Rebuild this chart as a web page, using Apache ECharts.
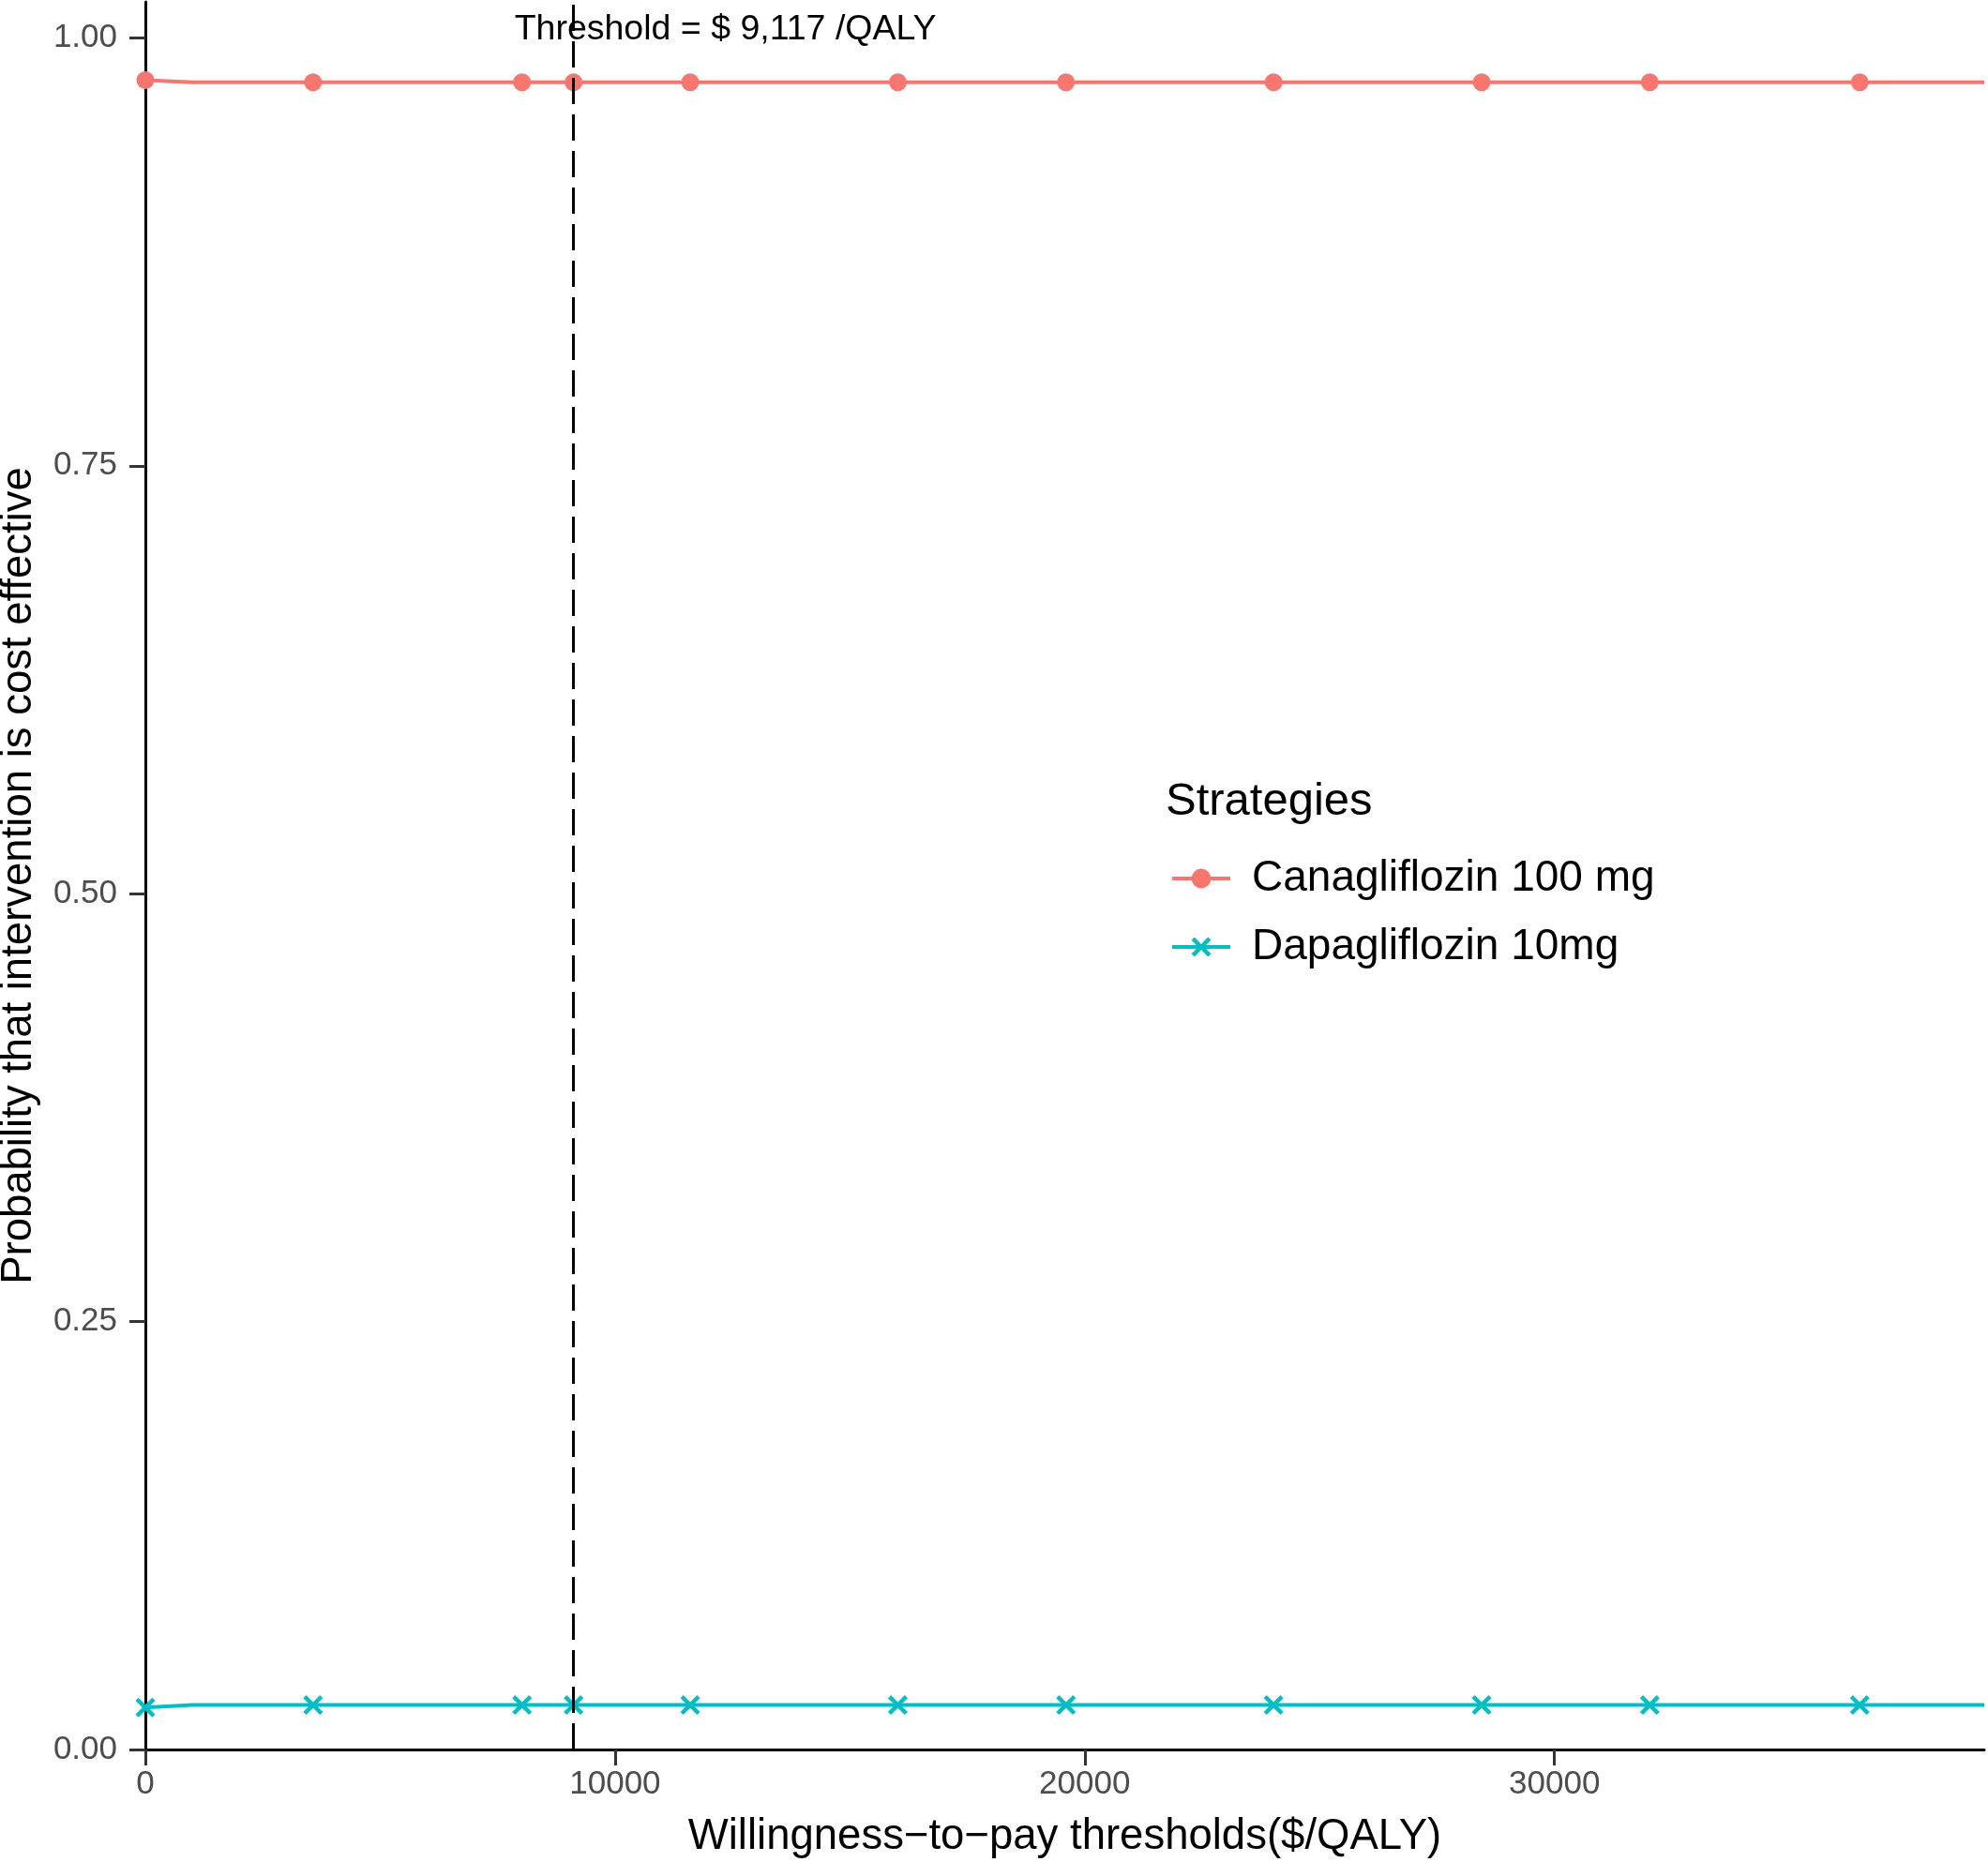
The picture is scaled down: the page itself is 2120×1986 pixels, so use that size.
<!DOCTYPE html>
<html>
<head>
<meta charset="utf-8">
<script src="https://cdn.jsdelivr.net/npm/echarts@6/dist/echarts.min.js"></script>
<style>
html,body{margin:0;padding:0;background:#fff;}
#chart{width:2120px;height:1986px;}
</style>
</head>
<body>
<div id="chart"></div>
<script>
// Data
const wtp = [0, 1000, 3570, 8020, 9117, 11600, 16020, 19600, 24020, 28450, 32030, 36500, 39150];
const canagliflozin = [0.9753, 0.974, 0.974, 0.974, 0.974, 0.974, 0.974, 0.974, 0.974, 0.974, 0.974, 0.974, 0.974];
const dapagliflozin = [0.0245, 0.026, 0.026, 0.026, 0.026, 0.026, 0.026, 0.026, 0.026, 0.026, 0.026, 0.026, 0.026];
const markerShown = [true, false, true, true, true, true, true, true, true, true, true, true, false];
const seriesNames = ['Canagliflozin 100 mg', 'Dapagliflozin 10mg'];
const xTicks = [0, 10000, 20000, 30000];
const xTickLabels = ['0', '10000', '20000', '30000'];
const yTicks = [0, 0.25, 0.5, 0.75, 1.0];
const yTickLabels = ['0.00', '0.25', '0.50', '0.75', '1.00'];
const thresholdValue = 9117;
const thresholdLabel = 'Threshold = $ 9,117 /QALY';
const thresholdLabelPos = [12350, 1.005];
const xTitle = 'Willingness\u2212to\u2212pay thresholds($/QALY)';
const yTitle = 'Probability that intervention is cost effective';
const legendTitle = 'Strategies';

const FONT = '"Liberation Sans", Arial, sans-serif';
const crossPath = 'path://M0,15 L15,0 L50,35 L85,0 L100,15 L65,50 L100,85 L85,100 L50,65 L15,100 L0,85 L35,50 Z';

function buildData(vals, sym) {
  return wtp.map((x, i) => ({ value: [x, vals[i]], symbol: markerShown[i] ? sym : 'none' }));
}
function pick(ticks, labels) {
  return v => { const i = ticks.findIndex(t => Math.abs(t - v) < 1e-9); return i >= 0 ? labels[i] : ''; };
}

const chart = echarts.init(document.getElementById('chart'), null, { renderer: 'canvas' });
chart.setOption({
  animation: false,
  backgroundColor: '#ffffff',
  textStyle: { fontFamily: FONT },
  title: {
    text: legendTitle,
    left: 1238,
    top: 826,
    textStyle: { fontFamily: FONT, fontSize: 49, fontWeight: 'normal', color: '#000' }
  },
  legend: {
    orient: 'vertical',
    left: 1243,
    top: 906,
    itemWidth: 62,
    itemHeight: 26,
    itemGap: 21,
    data: seriesNames,
    lineStyle: { width: 4 },
    textStyle: { fontFamily: FONT, fontSize: 46, color: '#000', lineHeight: 52, padding: [0, 0, 0, 18] }
  },
  grid: { left: 155, right: 4, top: 2, bottom: 120, containLabel: false, outerBoundsMode: 'none' },
  xAxis: {
    type: 'value',
    min: 0,
    max: 39150,
    name: xTitle,
    nameLocation: 'middle',
    nameGap: 70,
    nameTextStyle: { fontFamily: FONT, fontSize: 45.5, color: '#000' },
    splitLine: { show: false },
    axisLine: { show: true, onZero: false, lineStyle: { color: '#000', width: 3 } },
    axisTick: { show: true, length: 17, lineStyle: { color: '#333', width: 3 }, customValues: xTicks },
    axisLabel: { fontFamily: FONT, fontSize: 35, color: '#4d4d4d', margin: 20, customValues: xTicks, formatter: pick(xTicks, xTickLabels) }
  },
  yAxis: {
    type: 'value',
    min: 0,
    max: 1.021,
    name: yTitle,
    nameLocation: 'middle',
    nameRotate: 90,
    nameGap: 112,
    nameTextStyle: { fontFamily: FONT, fontSize: 45.5, color: '#000' },
    splitLine: { show: false },
    axisLine: { show: true, onZero: false, lineStyle: { color: '#000', width: 3 } },
    axisTick: { show: true, length: 17, lineStyle: { color: '#333', width: 3 }, customValues: yTicks },
    axisLabel: { fontFamily: FONT, fontSize: 35, color: '#4d4d4d', margin: 30, customValues: yTicks, formatter: pick(yTicks, yTickLabels) }
  },
  series: [
    {
      name: seriesNames[0],
      type: 'line',
      data: buildData(canagliflozin, 'circle'),
      symbol: 'circle',
      symbolSize: 19,
      showAllSymbol: true,
      color: '#F8766D',
      lineStyle: { color: '#F8766D', width: 4 },
      itemStyle: { color: '#F8766D' },
      z: 3,
      markLine: {
        silent: true,
        symbol: ['none', 'none'],
        label: { show: false },
        lineStyle: { color: '#000', width: 3, type: [28, 11] },
        data: [{ xAxis: thresholdValue }],
        z: 5
      },
      markPoint: {
        silent: true,
        symbol: 'circle',
        symbolSize: 1,
        itemStyle: { color: 'rgba(0,0,0,0)' },
        label: {
          show: true,
          position: 'inside',
          formatter: thresholdLabel,
          fontFamily: FONT,
          fontSize: 37.5,
          color: '#000'
        },
        data: [{ coord: thresholdLabelPos }]
      }
    },
    {
      name: seriesNames[1],
      type: 'line',
      data: buildData(dapagliflozin, crossPath),
      symbol: crossPath,
      symbolSize: 21,
      showAllSymbol: true,
      color: '#00BFC4',
      lineStyle: { color: '#00BFC4', width: 4 },
      itemStyle: { color: '#00BFC4' },
      z: 3
    }
  ]
});
</script>
</body>
</html>
